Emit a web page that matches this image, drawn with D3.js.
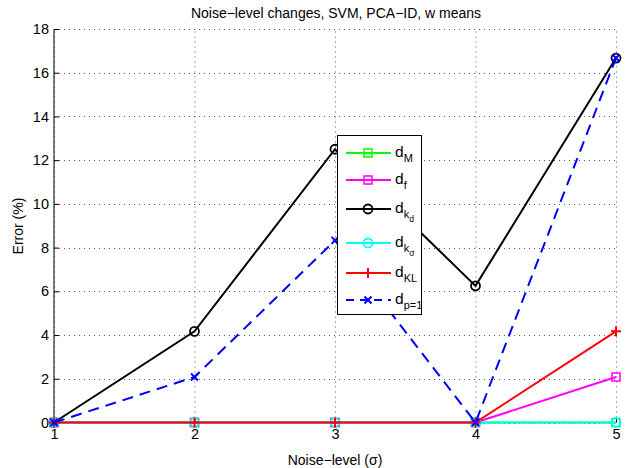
<!DOCTYPE html>
<html><head><meta charset="utf-8">
<script src="https://cdn.jsdelivr.net/npm/d3@7"></script>
<style>body{margin:0;background:#fff}svg{display:block;font-family:"Liberation Sans",Arial,sans-serif}</style>
</head><body><svg id="c" width="625" height="468"></svg>
<script>
const noiseLevels = [1, 2, 3, 4, 5];
const yTicks = [0, 2, 4, 6, 8, 10, 12, 14, 16, 18];
const dM   = [0, 0, 0, 0, 0];
const dF   = [0, 0, 0, 0, 2.08];
const dKd  = [0, 4.17, 12.5, 6.25, 16.67];
const dKs  = [0, 0, 0, 0, 0];
const dKL  = [0, 0, 0, 0, 4.17];
const dP1  = [0, 2.08, 8.33, 0, 16.67];
const titleText = "Noise\u2212level changes, SVM, PCA\u2212ID, w means";
const xLabel = "Noise\u2212level (\u03c3)";
const yLabel = "Error (%)";

const series = [
  {name:"M", sub2:null, values:dM, color:"#00ff00", marker:"square", dash:null},
  {name:"f", sub2:null, values:dF, color:"#ff00ff", marker:"square", dash:null},
  {name:"k", sub2:"d", values:dKd, color:"#000000", marker:"circle", dash:null},
  {name:"k", sub2:"\u03c3", values:dKs, color:"#00ffff", marker:"circle", dash:null},
  {name:"KL", sub2:null, values:dKL, color:"#ff0000", marker:"plus", dash:null},
  {name:"p=1", sub2:null, values:dP1, color:"#0000ff", marker:"x", dash:"11,7"}
];

const svg = d3.select("#c");
const x = d3.scaleLinear().domain([1,5]).range([54,616]);
const y = d3.scaleLinear().domain([0,18]).range([422.5,29]);

// grid
const g = svg.append("g");
g.selectAll(".gx").data(noiseLevels).enter().append("line")
  .attr("x1",d=>x(d)+0.5).attr("x2",d=>x(d)+0.5).attr("y1",y(0)).attr("y2",y(18))
  .attr("stroke","#555").attr("stroke-width",1).attr("stroke-dasharray","1,4");
g.selectAll(".gy").data(yTicks).enter().append("line")
  .attr("y1",d=>Math.round(y(d))+0.5).attr("y2",d=>Math.round(y(d))+0.5).attr("x1",x(1)).attr("x2",x(5))
  .attr("stroke","#555").attr("stroke-width",1).attr("stroke-dasharray","1,4");

// axes
const ya = d3.axisLeft(y).tickValues(yTicks).tickSize(-5).tickPadding(5).tickFormat(d3.format("d"));
const yg = svg.append("g").attr("transform",`translate(${x(1)},0)`).call(ya);
const xa = d3.axisBottom(x).tickValues(noiseLevels).tickSize(-5).tickPadding(6.5).tickFormat(d3.format("d"));
const xg = svg.append("g").attr("transform",`translate(0,${y(0)})`).call(xa);
[yg,xg].forEach(a=>{
  a.select(".domain").attr("stroke","#000");
  a.selectAll(".tick line").attr("stroke","#000");
  a.selectAll("text").attr("font-size",14.5).attr("fill","#000").attr("font-family","Liberation Sans, Arial, sans-serif");
});
xg.select(".domain").attr("d",`M${x(1)},0H${x(5)}`);
yg.select(".domain").attr("d",`M0,${y(0)}V${y(18)}`);

// title & labels
svg.append("text").attr("x",336).attr("y",18).attr("text-anchor","middle").attr("font-size",14).text(titleText);
svg.append("text").attr("x",335).attr("y",465).attr("text-anchor","middle").attr("font-size",14).text(xLabel);
svg.append("text").attr("transform","translate(23,226) rotate(-90)").attr("text-anchor","middle").attr("font-size",14).text(yLabel);

function drawMarker(sel, type, color){
  if(type==="square"){
    sel.append("rect").attr("x",-4).attr("y",-4).attr("width",8).attr("height",8)
      .attr("fill","none").attr("stroke",color).attr("stroke-width",1.5);
  } else if(type==="circle"){
    sel.append("circle").attr("r",4.5).attr("fill","none").attr("stroke",color).attr("stroke-width",1.8);
  } else if(type==="plus"){
    sel.append("path").attr("d","M-5,0H5M0,-5V5").attr("stroke",color).attr("stroke-width",2);
  } else if(type==="x"){
    sel.append("path").attr("d","M-3.5,-3.5L3.5,3.5M-3.5,3.5L3.5,-3.5").attr("stroke",color).attr("stroke-width",2);
  }
}

const line = d3.line().x((d,i)=>x(noiseLevels[i])).y(d=>y(d));
const plot = svg.append("g");
series.forEach(s=>{
  const sg = plot.append("g");
  sg.append("path").attr("d",line(s.values)).attr("fill","none").attr("stroke",s.color)
    .attr("stroke-width",2).attr("stroke-dasharray",s.dash);
  s.values.forEach((v,i)=>{
    const m = sg.append("g").attr("transform",`translate(${x(noiseLevels[i])},${y(v)})`);
    drawMarker(m, s.marker, s.color);
  });
});

// legend
const legendRows = [153, 180, 209, 243, 273, 300];
const lg = svg.append("g");
lg.append("rect").attr("x",337.5).attr("y",135.5).attr("width",84).attr("height",179)
  .attr("fill","#fff").attr("stroke","#000").attr("stroke-width",1);
series.forEach((s,i)=>{
  const ry = legendRows[i];
  lg.append("line").attr("x1",346).attr("x2",391).attr("y1",ry).attr("y2",ry)
    .attr("stroke",s.color).attr("stroke-width",2).attr("stroke-dasharray",s.dash ? "8,6" : null);
  const m = lg.append("g").attr("transform",`translate(368,${ry})`);
  drawMarker(m, s.marker, s.color);
  const t = lg.append("text").attr("x",395).attr("y",ry+4).attr("font-size",15.5);
  t.append("tspan").text("d");
  t.append("tspan").attr("font-size",11).attr("dy",5).text(s.name);
  if(s.sub2) t.append("tspan").attr("font-size",8.5).attr("dy",4).text(s.sub2);
});
</script></body></html>
